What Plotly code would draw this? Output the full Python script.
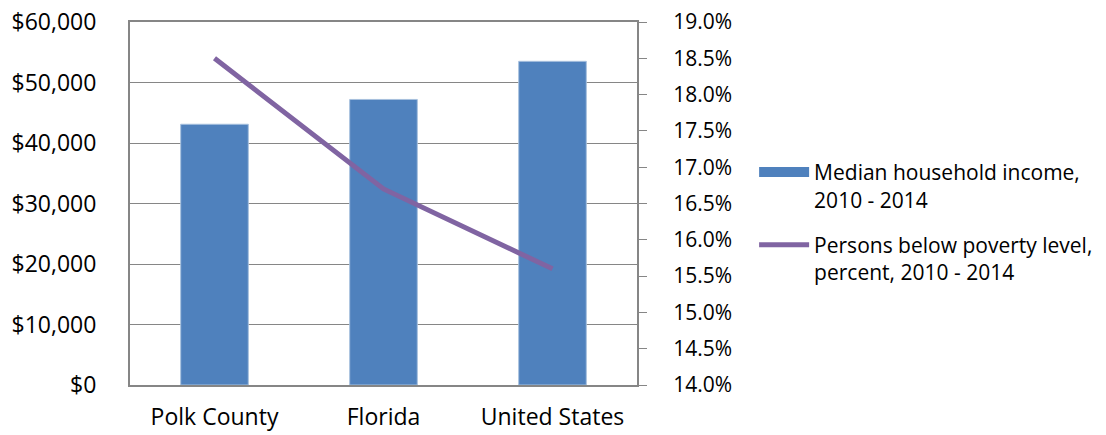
import plotly.graph_objects as go

categories = ['Polk County', 'Florida', 'United States']
income = [43100, 47200, 53500]
poverty = [18.5, 16.7, 15.6]

income_name = 'Median household income,<br>2010 - 2014'
poverty_name = 'Persons below poverty level,<br>percent, 2010 - 2014'

grid = '#868686'
bar_color = '#4f81bd'
line_color = '#8064a2'

fig = go.Figure()

fig.add_trace(go.Bar(
    x=categories, y=income, name=income_name,
    marker=dict(color=bar_color, line=dict(color='#a7c0de', width=1)),
    width=0.4, showlegend=False,
))

fig.add_trace(go.Scatter(
    x=categories, y=poverty, name=poverty_name, yaxis='y2',
    mode='lines', line=dict(color=line_color, width=5),
    legendgroup='b', legendrank=2,
))

# wide rectangle key for the bars, like the original legend
fig.add_trace(go.Scatter(
    x=[None], y=[None], name=income_name, mode='lines',
    line=dict(color=bar_color, width=14),
    legendgroup='a', legendrank=1,
))

fig.update_layout(
    width=1106, height=435,
    margin=dict(l=130, r=469, t=22, b=50, autoexpand=False),
    plot_bgcolor='white', paper_bgcolor='white',
    font=dict(family='Open Sans', size=23, color='#000000'),
    showlegend=True,
    legend=dict(
        x=1.231, y=0.642, xanchor='left', yanchor='top',
        font=dict(size=21),
        valign='top',
        tracegroupgap=15,
        itemwidth=50,
    ),
    xaxis=dict(
        showline=True, linecolor=grid, linewidth=2, mirror=True,
        ticks='', ticklabelstandoff=10, automargin=False,
    ),
    yaxis=dict(
        range=[0, 60000], dtick=10000, tickprefix='$', tickformat=',.0f',
        showgrid=True, gridcolor=grid, gridwidth=1,
        showline=True, linecolor=grid, linewidth=2,
        ticks='', zeroline=False, ticklabelstandoff=27,
        ticklabeloverflow='allow', automargin=False,
    ),
    yaxis2=dict(
        range=[14, 19], dtick=0.5, ticksuffix='%', tickformat='.1f',
        overlaying='y', side='right', showgrid=False,
        showline=True, linecolor=grid, linewidth=2,
        ticks='outside', ticklen=8, tickcolor=grid, zeroline=False,
        tickfont=dict(size=21),
        ticklabelstandoff=22, ticklabeloverflow='allow', automargin=False,
    ),
)

# drop the page's default body margin so the figure sits at 0,0
fig.write_html('out.html', config={'displayModeBar': False},
               post_script="document.body.style.margin='0';")
